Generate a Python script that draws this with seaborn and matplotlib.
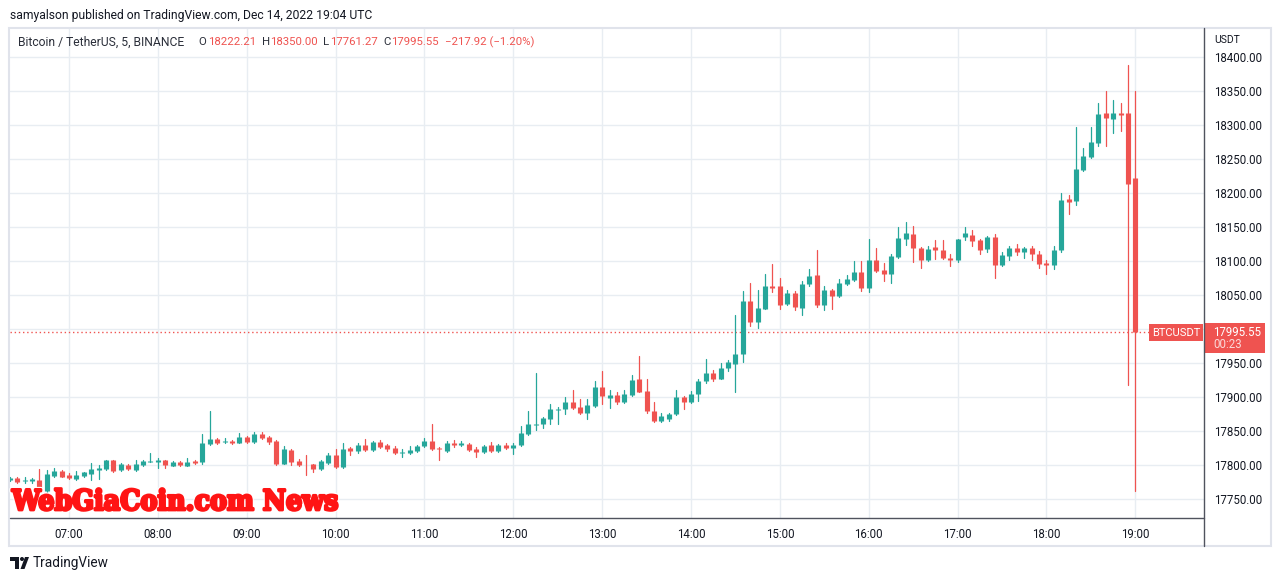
import numpy as np
import pandas as pd
import seaborn as sns
import matplotlib.pyplot as plt
import matplotlib.patheffects as pe
from matplotlib.patches import Rectangle, Circle, Polygon
from matplotlib.lines import Line2D
from matplotlib.transforms import Affine2D

# BTCUSDT 5-minute candles, 06:20 -> 19:00
opens = [17778, 17781, 17776, 17777, 17778, 17762, 17784, 17791,
         17786, 17780, 17784, 17787, 17793, 17794, 17807, 17792, 17800, 17793, 17800, 17805,
         17805, 17807, 17799, 17805, 17799, 17806, 17804, 17831, 17838, 17834, 17836, 17833,
         17841, 17834, 17846, 17841, 17836, 17802, 17822, 17806, 17802, 17801, 17794, 17803,
         17815, 17797, 17825, 17820, 17829, 17822, 17834, 17829, 17825, 17817, 17818, 17821,
         17828, 17836, 17825, 17820, 17832, 17830, 17831, 17823, 17819, 17830, 17821, 17830,
         17825, 17830, 17845, 17859, 17861, 17868, 17881, 17883, 17893, 17885, 17877, 17887,
         17915, 17899, 17903, 17892, 17903, 17927, 17909, 17880, 17864, 17867, 17875, 17900,
         17893, 17905, 17923, 17935, 17927, 17943, 17949, 17963, 18041, 18011, 18030, 18063,
         18063, 18037, 18053, 18031, 18066, 18080, 18036, 18058, 18048, 18067, 18072, 18084,
         18061, 18101, 18087, 18081, 18106, 18133, 18140, 18120, 18102, 18121, 18116, 18105,
         18102, 18135, 18138, 18131, 18118, 18136, 18094, 18108, 18120, 18114, 18120, 18110,
         18097, 18094, 18116, 18191, 18189, 18234, 18253, 18274, 18318, 18309, 18318, 18318,
         18222.21]
highs = [17783, 17782, 17782, 17781, 17794, 17793, 17795, 17792,
         17788, 17791, 17790, 17803, 17800, 17808, 17808, 17803, 17801, 17807, 17807, 17818,
         17811, 17808, 17806, 17806, 17810, 17807, 17846, 17879, 17839, 17840, 17837, 17847,
         17843, 17848, 17848, 17843, 17837, 17828, 17824, 17809, 17815, 17802, 17808, 17818,
         17823, 17832, 17826, 17832, 17838, 17836, 17837, 17831, 17828, 17823, 17828, 17829,
         17839, 17860, 17826, 17835, 17837, 17836, 17833, 17826, 17830, 17834, 17831, 17833,
         17832, 17857, 17879, 17935, 17871, 17890, 17886, 17900, 17910, 17897, 17897, 17923,
         17938, 17910, 17908, 17911, 17932, 17960, 17926, 17892, 17876, 17877, 17910, 17901,
         17909, 17926, 17956, 17940, 17950, 17954, 18020, 18056, 18068, 18057, 18081, 18096,
         18075, 18057, 18056, 18071, 18089, 18116, 18064, 18059, 18074, 18080, 18100, 18100,
         18132, 18120, 18097, 18110, 18150, 18157, 18151, 18121, 18122, 18131, 18131, 18110,
         18133, 18150, 18146, 18132, 18137, 18140, 18113, 18122, 18125, 18121, 18122, 18115,
         18102, 18122, 18200, 18197, 18298, 18266, 18298, 18332, 18350, 18337, 18332, 18388,
         18350.00]
lows = [17776, 17773, 17773, 17773, 17762, 17760, 17782, 17782,
        17780, 17778, 17783, 17778, 17779, 17792, 17790, 17791, 17793, 17791, 17799, 17804,
        17795, 17796, 17798, 17799, 17798, 17802, 17802, 17830, 17831, 17832, 17831, 17832,
        17833, 17833, 17838, 17831, 17800, 17801, 17800, 17799, 17785, 17790, 17793, 17801,
        17796, 17796, 17815, 17818, 17820, 17821, 17825, 17821, 17816, 17812, 17816, 17819,
        17827, 17822, 17808, 17819, 17826, 17828, 17821, 17812, 17818, 17819, 17819, 17823,
        17816, 17828, 17844, 17851, 17855, 17860, 17861, 17875, 17882, 17875, 17868, 17886,
        17890, 17884, 17890, 17891, 17902, 17907, 17876, 17863, 17863, 17864, 17874, 17882,
        17891, 17894, 17920, 17923, 17926, 17938, 17908, 17952, 18005, 18001, 18029, 18054,
        18030, 18035, 18028, 18020, 18064, 18033, 18028, 18029, 18047, 18065, 18071, 18056,
        18054, 18084, 18071, 18068, 18105, 18124, 18099, 18090, 18100, 18103, 18103, 18093,
        18099, 18131, 18122, 18111, 18114, 18075, 18093, 18102, 18109, 18105, 18101, 18090,
        18081, 18089, 18114, 18169, 18182, 18233, 18252, 18270, 18270, 18289, 18292, 17917,
        17761.27]
closes = [17781, 17775, 17778, 17779, 17763, 17787, 17791, 17783,
          17781, 17785, 17789, 17794, 17796, 17807, 17791, 17802, 17794, 17802, 17806, 17806,
          17807, 17800, 17804, 17800, 17804, 17803, 17832, 17838, 17833, 17836, 17833, 17841,
          17834, 17846, 17840, 17834, 17802, 17824, 17805, 17800, 17801, 17794, 17806, 17815,
          17797, 17823, 17820, 17829, 17822, 17834, 17827, 17823, 17817, 17819, 17822, 17828,
          17836, 17823, 17823.5, 17832, 17830, 17832, 17822, 17819, 17828, 17820, 17830, 17825,
          17830, 17847, 17860, 17861, 17869, 17882, 17883, 17893, 17884, 17877, 17888, 17915,
          17901, 17903, 17892, 17905, 17925, 17908, 17879, 17864, 17872, 17875, 17900, 17893,
          17905, 17924, 17935, 17927, 17943, 17951, 17963, 18042, 18011, 18031, 18063, 18061,
          18036, 18053, 18033, 18067, 18078, 18035, 18058, 18048, 18068, 18074, 18084, 18061,
          18101, 18085, 18081, 18107, 18134, 18141, 18120, 18102, 18118, 18116, 18104, 18102,
          18132, 18141, 18130, 18117, 18136, 18094, 18109, 18120, 18114, 18120, 18110, 18096,
          18095, 18117, 18190, 18187, 18235, 18254, 18275, 18316, 18311, 18318, 18315, 18213.47,
          17995.55]

price_ticks = [17750, 17800, 17850, 17900, 17950, 18000, 18050, 18100,
               18150, 18200, 18250, 18300, 18350, 18400]
hour_ticks = list(range(7, 20))
hour_labels = ['07:00', '08:00', '09:00', '10:00', '11:00', '12:00', '13:00',
               '14:00', '15:00', '16:00', '17:00', '18:00', '19:00']

UP = '#26a69a'
DOWN = '#ef5350'
TXT = '#131722'

times = pd.date_range('2022-12-14 06:20', periods=len(opens), freq='5min')
df = pd.DataFrame({'time': times, 'open': opens, 'high': highs, 'low': lows, 'close': closes})
df['hour'] = df['time'].dt.hour + df['time'].dt.minute / 60
df['dir'] = np.where(df['close'] >= df['open'], 'up', 'down')
df['id'] = np.arange(len(df))

wicks = df.melt(id_vars=['id', 'hour', 'dir'], value_vars=['low', 'high'], value_name='price')
bodies = df.melt(id_vars=['id', 'hour', 'dir'], value_vars=['open', 'close'], value_name='price')

sns.set_theme(style='white')
plt.rcParams['font.family'] = ['Roboto', 'DejaVu Sans']

W, H = 1280, 581
fig = plt.figure(figsize=(12.8, 5.81), dpi=100)
fig.patch.set_facecolor('white')
px = Affine2D().scale(1, -1).translate(0, H)  # pixel coords, y down

ax = fig.add_axes([10 / W, 1 - 518 / H, (1204 - 10) / W, (518 - 28) / H])
pal = {'up': UP, 'down': DOWN}
sns.lineplot(data=wicks, x='hour', y='price', units='id', estimator=None, hue='dir',
             palette=pal, linewidth=0.9, legend=False, ax=ax)
sns.lineplot(data=bodies, x='hour', y='price', units='id', estimator=None, hue='dir',
             palette=pal, linewidth=3.7, legend=False, ax=ax, solid_capstyle='butt')

ax.set_xlim(6.336, 19.773)
ax.set_ylim(17722, 18443)
ax.set_xticks(hour_ticks)
ax.set_xticklabels(hour_labels)
ax.set_yticks(price_ticks)
ax.set_yticklabels([f'{p:.2f}' for p in price_ticks])
ax.yaxis.tick_right()
ax.tick_params(axis='y', length=0, pad=7, labelsize=8.3, labelcolor=TXT)
ax.tick_params(axis='x', length=0, pad=7, labelsize=8.3, labelcolor=TXT)
for lab in ax.get_yticklabels():
    lab.set_horizontalalignment('left')
ax.grid(True, color='#e8edf2', linewidth=1)
ax.set_axisbelow(True)
ax.set_xlabel('')
ax.set_ylabel('')
for s in ax.spines.values():
    s.set_visible(False)

last = closes[-1]
ax.axhline(last, xmax=(1149 - 10) / (1204 - 10), color=DOWN, linestyle=(0, (1, 2)),
           linewidth=1, zorder=1)

# chart frame and axis lines
fig.add_artist(Rectangle((9, 28), 1262, 518, transform=px, fill=False,
                         edgecolor='#e0e3eb', linewidth=1.5))
fig.add_artist(Line2D([10, 1204], [518, 518], transform=px, color='#50535e', linewidth=1))
fig.add_artist(Line2D([1204, 1204], [28, 546], transform=px, color='#50535e', linewidth=1))

# top attribution
fig.text(10, 15, 'samyalson published on TradingView.com, Dec 14, 2022 19:04 UTC',
         transform=px, fontsize=8.7, color=TXT, va='center', ha='left')

# legend header
chg = closes[-1] - closes[-2]
pct = chg / closes[-2] * 100
header = [
    (18, 'Bitcoin / TetherUS, 5, BINANCE', '#2a2e39'),
    (198, 'O', '#2a2e39'), (208, f'{opens[-1]:.2f}', DOWN),
    (262, 'H', '#2a2e39'), (270, f'{highs[-1]:.2f}', DOWN),
    (323, 'L', '#2a2e39'), (330, f'{lows[-1]:.2f}', DOWN),
    (383, 'C', '#2a2e39'), (391, f'{closes[-1]:.2f}', DOWN),
    (445, f'{chg:.2f} ({pct:.2f}%)'.replace('-', '\u2212'), DOWN),
]
for i, (x, t, c) in enumerate(header):
    fig.text(x, 42, t, transform=px, fontsize=8.7 if i == 0 else 8.2, color=c,
             va='center', ha='left')

fig.text(1214, 40, 'USDT', transform=px, fontsize=7.5, color=TXT, va='center', ha='left')

# last price labels
fig.add_artist(Rectangle((1149, 324), 54, 17, transform=px, color=DOWN, linewidth=0))
fig.text(1176, 332.5, 'BTCUSDT', transform=px, fontsize=8, color='white', va='center', ha='center')
fig.add_artist(Rectangle((1204, 323), 61, 30, transform=px, color=DOWN, linewidth=0))
fig.text(1213, 332, f'{last:.2f}', transform=px, fontsize=8.3, color='white', va='center', ha='left')
fig.text(1213, 345, '00:23', transform=px, fontsize=8.3, color='#fbd9d9', va='center', ha='left')

# watermark
wm = fig.text(12, 510, 'WebGiaCoin.com News', transform=px, fontsize=24, color='#ff1414',
              family='DejaVu Serif', weight='bold', stretch='condensed', va='baseline', ha='left',
              zorder=10,
              path_effects=[pe.Stroke(linewidth=3.6, foreground='white'),
                            pe.Stroke(linewidth=2, foreground='#ff1414'), pe.Normal()])
fig.canvas.draw()
wm.set_fontsize(24 * 326 / wm.get_window_extent().width)

# TradingView logo
fig.add_artist(Polygon([(10, 557), (19, 557), (19, 569), (15, 569), (15, 561), (10, 561)],
                       closed=True, transform=px, color=TXT, linewidth=0))
fig.add_artist(Circle((22, 559), 2, transform=px, color=TXT, linewidth=0))
fig.add_artist(Polygon([(25, 557), (29, 557), (24.5, 569), (20.5, 569)],
                       closed=True, transform=px, color=TXT, linewidth=0))
fig.text(33, 563, 'TradingView', transform=px, fontsize=9.8, color=TXT, va='center', ha='left')

fig.savefig('out.png', dpi=100)
